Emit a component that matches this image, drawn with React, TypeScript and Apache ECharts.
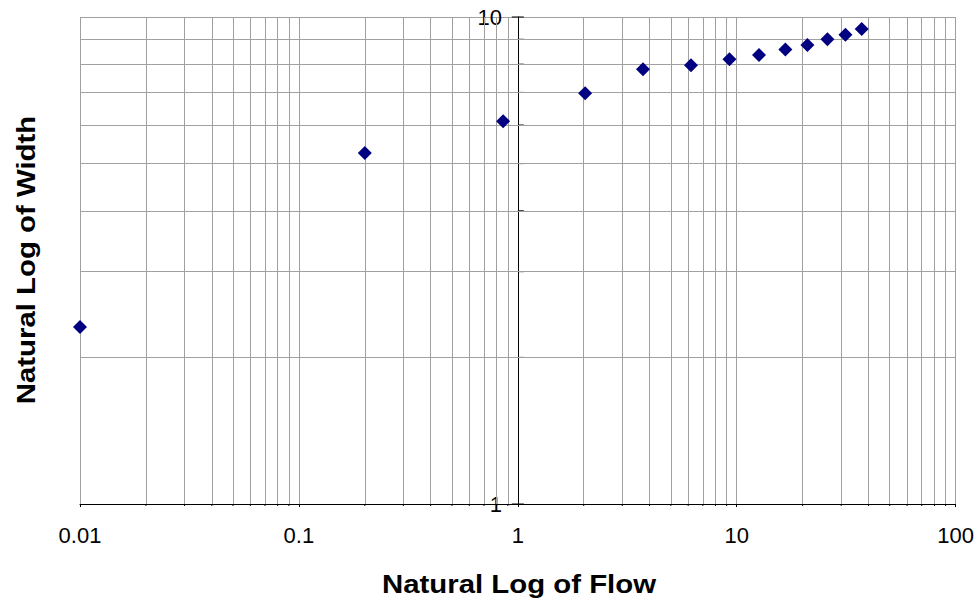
import React, { useEffect, useRef } from "react";
import * as echarts from "echarts";

// Data (flow, width)
const flow = [0.01, 0.2, 0.857, 2.03, 3.73, 6.18, 9.26, 12.64, 16.68, 21.03, 25.96, 31.37, 37.23];
const width = [2.31, 5.26, 6.11, 6.97, 7.81, 7.96, 8.19, 8.36, 8.58, 8.76, 9.0, 9.19, 9.45];

// Axis definitions
const xMin = 0.01;
const xMax = 100;
const yMin = 1;
const yMax = 10;
const yAxisCrossX = 1;
const xMinorGrid = [
  0.02, 0.03, 0.04, 0.05, 0.06, 0.07, 0.08, 0.09,
  0.2, 0.3, 0.4, 0.5, 0.6, 0.7, 0.8, 0.9,
  2, 3, 4, 5, 6, 7, 8, 9,
  20, 30, 40, 50, 60, 70, 80, 90,
];
const yMinorGrid = [2, 3, 4, 5, 6, 7, 8, 9];
const yMajorTicks = [1, 10];

const xTitle = "Natural Log of Flow";
const yTitle = "Natural Log of Width";

const fmt = (v: number) => String(+Number(v).toPrecision(6));

export default function App() {
  const ref = useRef<HTMLDivElement>(null);
  useEffect(() => {
    if (!ref.current) return;
    const chart = echarts.init(ref.current, undefined, { renderer: "svg" });
    const gridColor = "#a0a0a0";
    const font = "Arial, 'Liberation Sans', sans-serif";
    const option: any = {
      animation: false,
      backgroundColor: "#ffffff",
      textStyle: { fontFamily: font },
      grid: { left: 80, right: 21, top: 17, bottom: 101, containLabel: false },
      xAxis: {
        type: "log",
        logBase: 10,
        min: xMin,
        max: xMax,
        axisLine: { show: true, lineStyle: { color: "#000", width: 1 } },
        axisTick: { show: true, length: 3, lineStyle: { color: "#000" } },
        axisLabel: {
          fontSize: 22,
          color: "#000",
          margin: 20,
          formatter: fmt,
          fontFamily: font,
        },
        splitLine: { show: true, lineStyle: { color: gridColor, width: 1 } },
      },
      yAxis: {
        type: "log",
        logBase: 10,
        min: yMin,
        max: yMax,
        position: "left",
        offset: -438,
        axisLine: { show: true, lineStyle: { color: "#000", width: 1 } },
        axisTick: { show: false },
        axisLabel: {
          fontSize: 22,
          color: "#000",
          margin: 16,
          formatter: fmt,
          fontFamily: font,
        },
        splitLine: { show: true, lineStyle: { color: gridColor, width: 1 } },
      },
      graphic: [
        {
          type: "text",
          x: 519,
          y: 584,
          scaleX: 1.13,
          style: {
            text: xTitle,
            font: `bold 26px ${font}`,
            fill: "#000",
            textAlign: "center",
            textVerticalAlign: "middle",
          },
        },
        {
          type: "text",
          x: 26,
          y: 260,
          rotation: Math.PI / 2,
          scaleX: 1.13,
          style: {
            text: yTitle,
            font: `bold 26px ${font}`,
            fill: "#000",
            textAlign: "center",
            textVerticalAlign: "middle",
          },
        },
      ],
      series: [
        {
          type: "scatter",
          data: [],
          z: 1,
          silent: true,
          markLine: {
            silent: true,
            symbol: "none",
            label: { show: false },
            animation: false,
            lineStyle: { color: gridColor, width: 1, type: "solid" },
            data: [
              ...xMinorGrid.map((v) => ({ xAxis: v })),
              ...yMinorGrid.map((v) => ({ yAxis: v })),
            ],
          },
        },
        {
          type: "custom",
          z: 4,
          silent: true,
          data: [
            ...yMinorGrid.map((v) => [yAxisCrossX, v, 0]),
            ...yMajorTicks.map((v) => [yAxisCrossX, v, 1]),
          ],
          renderItem: (params: any, api: any) => {
            const p = api.coord([api.value(0), api.value(1)]);
            const major = api.value(2) === 1;
            return {
              type: "line",
              shape: { x1: major ? p[0] - 6 : p[0], y1: p[1], x2: p[0] + 6, y2: p[1] },
              style: { stroke: "#000", lineWidth: 1 },
            };
          },
        },
        {
          type: "custom",
          z: 4,
          silent: true,
          data: xMinorGrid.map((v) => [v, yMin]),
          renderItem: (params: any, api: any) => {
            const p = api.coord([api.value(0), api.value(1)]);
            return {
              type: "line",
              shape: { x1: p[0], y1: p[1], x2: p[0], y2: p[1] + 2 },
              style: { stroke: "#000", lineWidth: 1 },
            };
          },
        },
        {
          type: "scatter",
          z: 5,
          symbol: "diamond",
          symbolSize: 14,
          itemStyle: { color: "#000080", opacity: 1 },
          data: flow.map((f, i) => [f, width[i]]),
        },
      ],
    };
    chart.setOption(option);
    return () => chart.dispose();
  }, []);
  return <div ref={ref} style={{ width: 977, height: 605, position: "absolute", left: 0, top: 0 }} />;
}
